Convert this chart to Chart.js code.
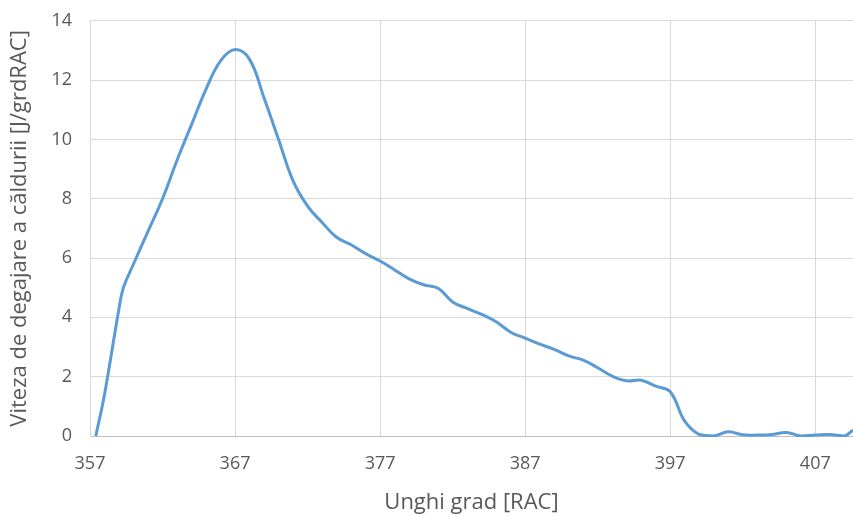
<!DOCTYPE html>
<html>
<head>
<meta charset="utf-8">
<script src="https://cdn.jsdelivr.net/npm/chart.js@4/dist/chart.umd.min.js"></script>
<style>
  html, body { margin: 0; padding: 0; background: #ffffff; }
  #wrap { width: 853px; height: 516px; position: relative; overflow: hidden; }
  #c { position: absolute; left: 0; top: -8px; }
</style>
</head>
<body>
<div id="wrap"><canvas id="c" width="853" height="524"></canvas></div>
<script>
// Crank angle [deg RAC]
const angle = [
  357.4, 358, 359, 359.3, 360, 361, 362, 363, 364, 365, 366, 367,
  368, 369, 370, 371, 372, 373, 374, 375, 376, 377, 378, 379, 380,
  381, 382, 383, 384, 385, 386, 387, 388, 389, 390, 391, 392, 393,
  394, 395, 396, 397, 398, 399, 400, 401, 402, 403, 404, 405, 406,
  407, 408, 409, 409.6
];
// Heat release rate [J/grdRAC]
const heatRate = [
  0.0, 1.4, 4.3, 5.0, 5.8, 6.9, 8.0, 9.3, 10.5, 11.7, 12.65, 13.03,
  12.7, 11.4, 10.0, 8.6, 7.75, 7.2, 6.7, 6.45, 6.15, 5.9, 5.6, 5.3, 5.1,
  4.98, 4.52, 4.3, 4.1, 3.85, 3.5, 3.3, 3.1, 2.92, 2.7, 2.56, 2.3, 2.02,
  1.86, 1.88, 1.68, 1.49, 0.5, 0.05, 0.0, 0.14, 0.04, 0.03, 0.05, 0.12, 0.0,
  0.03, 0.05, 0.0, 0.2
];
const xTicks = [357, 367, 377, 387, 397, 407];
const yTicks = [0, 2, 4, 6, 8, 10, 12, 14];

const points = angle.map((a, i) => ({ x: a, y: heatRate[i] }));
const textColor = '#595959';
const fontFamily = '"Open Sans", "Noto Sans", sans-serif';

new Chart(document.getElementById('c'), {
  type: 'scatter',
  data: {
    datasets: [{
      data: points,
      showLine: true,
      borderColor: '#5B9BD5',
      borderWidth: 3,
      pointRadius: 0,
      tension: 0.4,
      clip: 1
    }]
  },
  options: {
    responsive: false,
    animation: false,
    layout: { padding: 0 },
    plugins: { legend: { display: false }, tooltip: { enabled: false } },
    scales: {
      x: {
        type: 'linear',
        min: 357,
        max: 409.6,
        afterBuildTicks: s => { s.ticks = xTicks.map(v => ({ value: v })); },
        afterFit: s => { s.height = 80; },
        grid: { color: '#d9d9d9', lineWidth: 1, drawTicks: false },
        border: { color: '#bfbfbf', width: 1 },
        ticks: { color: textColor, font: { family: fontFamily, size: 18 }, padding: 17, maxRotation: 0 },
        title: {
          display: true, text: 'Unghi grad [RAC]', color: textColor,
          font: { family: fontFamily, size: 22 }, padding: { top: 4, bottom: 0 }
        }
      },
      y: {
        min: 0,
        max: 14,
        afterBuildTicks: s => { s.ticks = yTicks.map(v => ({ value: v })); },
        afterFit: s => { s.width = 90; },
        grid: { color: '#d9d9d9', lineWidth: 1, drawTicks: false },
        border: { color: '#d9d9d9', width: 1 },
        ticks: { color: textColor, font: { family: fontFamily, size: 18 }, padding: 18 },
        title: {
          display: true, text: 'Viteza de degajare a căldurii [J/grdRAC]', color: textColor,
          font: { family: fontFamily, size: 22 }, padding: { top: 7, bottom: 0 }
        }
      }
    }
  }
});
</script>
</body>
</html>
